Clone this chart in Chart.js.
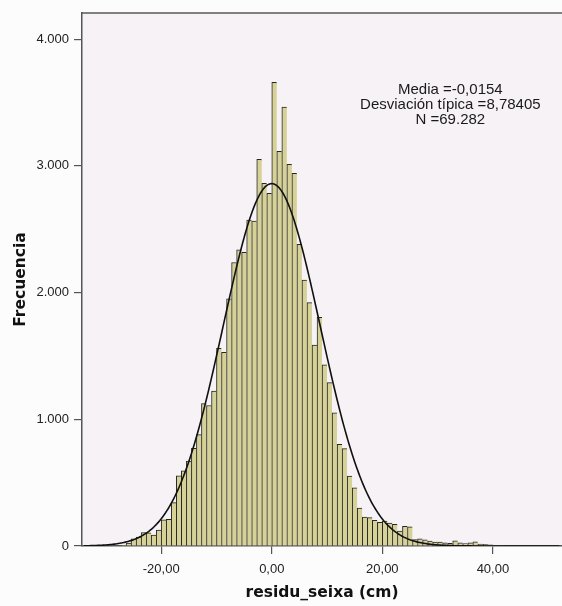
<!DOCTYPE html>
<html>
<head>
<meta charset="utf-8">
<script src="https://cdn.jsdelivr.net/npm/chart.js@4.4.1/dist/chart.umd.min.js"></script>
<style>
  html, body { margin: 0; padding: 0; background: #fcfcfc; }
  canvas { display: block; }
</style>
</head>
<body>
<canvas id="histo" width="562" height="606"></canvas>
<script>
// residu_seixa (cm): centro de cada intervalo (ancho 10/11 cm) y su frecuencia
const binCenters = [
  -26.82, -25.91, -25.00, -24.09, -23.18, -22.27, -21.36, -20.45, -19.55, -18.64,
  -17.73, -16.82, -15.91, -15.00, -14.09, -13.18, -12.27, -11.36, -10.45, -9.55,
  -8.64, -7.73, -6.82, -5.91, -5.00, -4.09, -3.18, -2.27, -1.36, -0.45,
  0.45, 1.36, 2.27, 3.18, 4.09, 5.00, 5.91, 6.82, 7.73, 8.64,
  9.55, 10.45, 11.36, 12.27, 13.18, 14.09, 15.00, 15.91, 16.82, 17.73,
  18.64, 19.55, 20.45, 21.36, 22.27, 23.18, 24.09, 25.00, 25.91, 26.82,
  27.73, 28.64, 29.55, 30.45, 31.36, 32.27, 33.18, 34.09, 35.00, 35.91,
  36.82, 37.73, 38.64, 39.55, 40.45, 41.36
];
const frequencies = [
  6, 24, 57, 70, 106, 104, 86, 126, 206, 210,
  342, 553, 593, 671, 771, 879, 1124, 1109, 1223, 1560,
  1529, 1950, 2238, 2338, 2318, 2573, 2565, 3052, 2862, 2784,
  3660, 3115, 3465, 3012, 2941, 2381, 2099, 1921, 1586, 1805,
  1429, 1289, 1052, 803, 768, 552, 460, 299, 228, 224,
  203, 187, 196, 180, 172, 117, 156, 151, 51, 57,
  49, 38, 30, 30, 25, 22, 40, 25, 20, 25,
  32, 15, 13, 10, 4, 3
];

const xTicks = [-20, 0, 20, 40];
const xTickLabels = ["-20,00", "0,00", "20,00", "40,00"];
const yTicks = [0, 1000, 2000, 3000, 4000];
const yTickLabels = ["0", "1.000", "2.000", "3.000", "4.000"];

// resumen impreso en el gráfico
const statLines = ["Media =-0,0154", "Desviación típica =8,78405", "N =69.282"];
const statMean = -0.0154;
const statSd = 8.78405;
const statN = 69282;
const binWidth = 10 / 11;

// curva normal ajustada con media, desviación y N del resumen
const normalCurve = [];
for (let x = -34; x <= 52; x += 0.25) {
  const z = (x - statMean) / statSd;
  normalCurve.push({
    x: x,
    y: statN * binWidth * Math.exp(-0.5 * z * z) / (statSd * Math.sqrt(2 * Math.PI))
  });
}

const tickFont = { family: "'Liberation Sans', Arial, sans-serif", size: 13 };
const titleFont = { family: "'DejaVu Sans', Verdana, sans-serif", size: 15.5, weight: "bold" };

// fondo del área de trazado, borde superior y texto del resumen
const plotFrame = {
  id: "plotFrame",
  beforeDraw(chart) {
    const { ctx, chartArea: a } = chart;
    ctx.save();
    ctx.fillStyle = "#fcfcfc";
    ctx.fillRect(0, 0, chart.width, chart.height);
    ctx.fillStyle = "#f6f2f6";
    ctx.fillRect(a.left, a.top, a.right - a.left, a.bottom - a.top);
    ctx.strokeStyle = "#5a5a5a";
    ctx.lineWidth = 1.5;
    ctx.beginPath();
    ctx.moveTo(a.left, a.top);
    ctx.lineTo(a.right, a.top);
    ctx.stroke();
    ctx.restore();
  },
  afterDraw(chart) {
    const { ctx, scales } = chart;
    const cx = scales.x.getPixelForValue(32.3);
    const cy = scales.y.getPixelForValue(3600);
    ctx.save();
    ctx.fillStyle = "#1a1a1a";
    ctx.font = "15px 'Liberation Sans', Arial, sans-serif";
    ctx.textAlign = "center";
    ctx.textBaseline = "middle";
    statLines.forEach((line, i) => ctx.fillText(line, cx, cy + i * 14.8));
    ctx.restore();
  }
};

new Chart(document.getElementById("histo"), {
  type: "bar",
  data: {
    datasets: [
      {
        type: "line",
        data: normalCurve,
        borderColor: "#111111",
        borderWidth: 1.6,
        pointRadius: 0,
        tension: 0,
        order: 0
      },
      {
        type: "bar",
        data: binCenters.map((c, i) => ({ x: c, y: frequencies[i] })),
        backgroundColor: "#d6d197",
        borderColor: "#262626",
        borderWidth: { top: 1, left: 1, right: 0, bottom: 0 },
        borderSkipped: false,
        barPercentage: 1,
        categoryPercentage: 1,
        order: 1
      }
    ]
  },
  options: {
    responsive: false,
    animation: false,
    layout: { padding: { top: 13, right: 0, bottom: 0, left: 0 } },
    plugins: {
      legend: { display: false },
      tooltip: { enabled: false }
    },
    scales: {
      x: {
        type: "linear",
        min: -34.33,
        max: 52.5,
        offset: false,
        afterBuildTicks: (axis) => { axis.ticks = xTicks.map((v) => ({ value: v })); },
        afterFit: (axis) => { axis.height = 60; },
        grid: { offset: false, drawOnChartArea: false, drawTicks: true, tickLength: 8, color: "#555555", lineWidth: 1.2 },
        border: { display: true, color: "#555555", width: 1.5 },
        ticks: {
          font: tickFont,
          color: "#222222",
          padding: 8,
          maxRotation: 0,
          autoSkip: false,
          callback: (v) => xTickLabels[xTicks.indexOf(v)]
        },
        title: {
          display: true,
          text: "residu_seixa (cm)",
          font: titleFont,
          color: "#111111",
          padding: { top: 0, bottom: 4 }
        }
      },
      y: {
        type: "linear",
        min: 0,
        max: 4207,
        afterBuildTicks: (axis) => { axis.ticks = yTicks.map((v) => ({ value: v })); },
        afterFit: (axis) => { axis.width = 82; },
        grid: { drawOnChartArea: false, drawTicks: true, tickLength: 8, color: "#555555", lineWidth: 1.2 },
        border: { display: true, color: "#555555", width: 1.5 },
        ticks: {
          font: tickFont,
          color: "#222222",
          padding: 5,
          callback: (v) => yTickLabels[yTicks.indexOf(v)]
        },
        title: {
          display: true,
          text: "Frecuencia",
          font: titleFont,
          color: "#111111",
          padding: { top: 12, bottom: 0 }
        }
      }
    }
  },
  plugins: [plotFrame]
});
</script>
</body>
</html>
